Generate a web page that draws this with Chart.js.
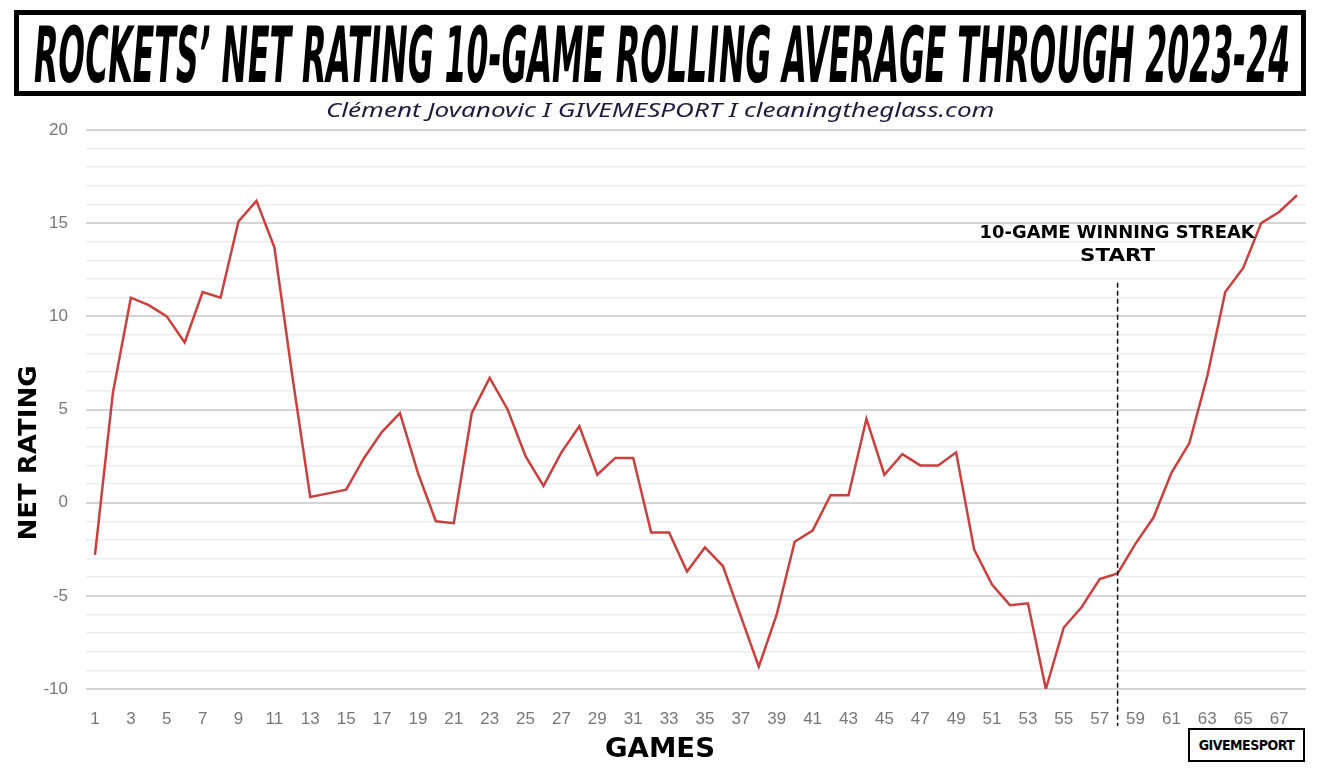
<!DOCTYPE html>
<html>
<head>
<meta charset="utf-8">
<script src="https://cdn.jsdelivr.net/npm/chart.js@4.4.1/dist/chart.umd.min.js"></script>
<style>
  html, body { margin: 0; padding: 0; background: #fff; }
  #wrap { position: relative; width: 1322px; height: 770px; overflow: hidden; }
  #chart { position: absolute; left: 0; top: 0; }
  #titlebox {
    position: absolute; left: 14px; top: 10px; width: 1292px; height: 86px;
    border: 5px solid #000; box-sizing: border-box;
  }
  #title {
    position: absolute; left: 0; top: 0; white-space: nowrap;
    font-family: "DejaVu Sans Condensed", "DejaVu Sans", sans-serif;
    font-weight: bold; font-size: 80px; line-height: 80px; color: #000;
    transform-origin: 0 0;
  }
  #subtitle {
    position: absolute; top: 96px; white-space: nowrap;
    font-family: "Noto Sans", "Open Sans", sans-serif; font-style: italic;
    font-size: 20px; line-height: 28px; color: #1d1d3d;
    transform-origin: 0 0;
  }
  #logo {
    position: absolute; left: 1188px; top: 728px; width: 117px; height: 34px;
    border: 2px solid #000; box-sizing: border-box; background: #fff;
    font-family: "DejaVu Sans Condensed", "DejaVu Sans", sans-serif; font-weight: bold;
    font-size: 14px; line-height: 30px; text-align: center; letter-spacing: -0.5px;
  }
</style>
</head>
<body>
<div id="wrap">
  <canvas id="chart" width="1322" height="770"></canvas>
  <div id="titlebox"><span id="title">ROCKETS’ NET RATING 10-GAME ROLLING AVERAGE THROUGH 2023-24</span></div>
  <div id="subtitle">Clément Jovanovic I GIVEMESPORT I cleaningtheglass.com</div>
  <div id="logo">GIVEMESPORT</div>
</div>
<script>
// jogos (categorias do eixo x)
const games = ['1','2','3','4','5','6','7','8','9','10','11','12','13','14','15','16','17','18','19','20',
  '21','22','23','24','25','26','27','28','29','30','31','32','33','34','35','36','37','38','39','40',
  '41','42','43','44','45','46','47','48','49','50','51','52','53','54','55','56','57','58','59','60',
  '61','62','63','64','65','66','67','68'];

// net rating, média móvel de 10 jogos
const netRating = [-2.8, 5.9, 11.0, 10.6, 10.0, 8.6, 11.3, 11.0, 15.1, 16.2,
  13.7, 6.8, 0.3, 0.5, 0.7, 2.4, 3.8, 4.8, 1.6, -1.0,
  -1.1, 4.8, 6.7, 5.0, 2.5, 0.9, 2.7, 4.1, 1.5, 2.4,
  2.4, -1.6, -1.6, -3.7, -2.4, -3.4, -6.1, -8.8, -6.0, -2.1,
  -1.5, 0.4, 0.4, 4.5, 1.5, 2.6, 2.0, 2.0, 2.7, -2.5,
  -4.4, -5.5, -5.4, -10.0, -6.7, -5.6, -4.1, -3.8, -2.2, -0.8,
  1.6, 3.2, 6.8, 11.3, 12.6, 15.0, 15.6, 16.5];

const yLabeled = [-10, -5, 0, 5, 10, 15, 20];
const streakGame = '58';
const streakTop = 11.8;
const streakText = ['10-GAME WINNING STREAK', 'START'];

// ajusta título e subtítulo
const title = document.getElementById('title');
const tw = title.offsetWidth;
title.style.transform = 'translate(18px, 2px) scale(' + (1256 / tw) + ', 0.97) skewX(-10deg)';
const sub = document.getElementById('subtitle');
const sw = sub.offsetWidth;
sub.style.left = '326px';
sub.style.transform = 'scale(' + (668 / sw) + ', 1)';

function fitText(ctx, text, cx, cy, width) {
  const w = ctx.measureText(text).width;
  ctx.save();
  ctx.translate(cx, cy);
  ctx.scale(width / w, 1);
  ctx.fillText(text, 0, 0);
  ctx.restore();
}

const extras = {
  id: 'extras',
  afterDatasetsDraw(chart) {
    const ctx = chart.ctx;
    const xs = chart.scales.x, ys = chart.scales.y;
    const x = xs.getPixelForValue(games.indexOf(streakGame));
    ctx.save();
    ctx.strokeStyle = '#111';
    ctx.lineWidth = 1.5;
    ctx.setLineDash([5, 3]);
    ctx.beginPath();
    ctx.moveTo(x, ys.getPixelForValue(streakTop));
    ctx.lineTo(x, chart.chartArea.bottom + 37);
    ctx.stroke();
    ctx.setLineDash([]);
    ctx.fillStyle = '#000';
    ctx.textAlign = 'center';
    ctx.textBaseline = 'middle';
    ctx.font = 'bold 17px "DejaVu Sans"';
    fitText(ctx, streakText[0], x - 0.5, 234, 275);
    fitText(ctx, streakText[1], x, 257, 75);
    // títulos dos eixos
    ctx.font = 'bold 24px "DejaVu Sans"';
    ctx.save();
    ctx.translate(30, 453);
    ctx.rotate(-Math.PI / 2);
    fitText(ctx, 'NET RATING', 0, 0, 175);
    ctx.restore();
    ctx.font = 'bold 26px "DejaVu Sans"';
    fitText(ctx, 'GAMES', 660, 750, 110);
    ctx.restore();
  }
};

new Chart(document.getElementById('chart'), {
  type: 'line',
  data: {
    labels: games,
    datasets: [{
      data: netRating,
      borderColor: '#c8413f',
      borderWidth: 2.5,
      pointRadius: 0,
      tension: 0,
      fill: false
    }]
  },
  options: {
    responsive: false,
    animation: false,
    layout: { padding: { top: 130, right: 16, left: 0, bottom: 0 } },
    plugins: { legend: { display: false }, tooltip: { enabled: false } },
    scales: {
      x: {
        type: 'category',
        offset: true,
        grid: { display: false },
        border: { display: false },
        afterFit(scale) { scale.height = 81; },
        ticks: {
          autoSkip: false, maxRotation: 0, padding: 12,
          color: '#777', font: { family: '"Liberation Sans", Arial', size: 17 },
          callback: (v, i) => (i % 2 === 0 ? games[i] : '')
        }
      },
      y: {
        min: -10, max: 20,
        border: { display: false },
        afterFit(scale) { scale.width = 86; },
        grid: {
          drawTicks: false,
          color: c => (yLabeled.includes(c.tick.value) ? '#d5d5d5' : '#ededed'),
          lineWidth: c => (yLabeled.includes(c.tick.value) ? 2 : 1.6)
        },
        ticks: {
          stepSize: 1, autoSkip: false, padding: 18,
          color: '#777', font: { family: '"Liberation Sans", Arial', size: 17 },
          callback: v => (yLabeled.includes(v) ? String(v) : '')
        }
      }
    }
  },
  plugins: [extras]
});
</script>
</body>
</html>
